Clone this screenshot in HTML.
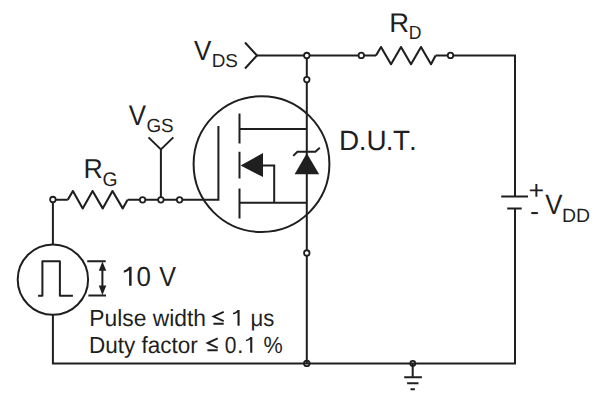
<!DOCTYPE html>
<html><head><meta charset="utf-8"><style>
html,body{margin:0;padding:0;background:#fff;width:613px;height:402px;overflow:hidden}
svg{display:block}
text{font-family:"Liberation Sans",sans-serif;fill:#1f1f1f;text-rendering:geometricPrecision}
</style></head><body>
<svg width="613" height="402" viewBox="0 0 613 402">
<g fill="none" stroke="#1f1f1f" stroke-width="2" stroke-linejoin="miter" stroke-linecap="butt">
<!-- top wire -->
<path d="M257 55.5 H376 M435.6 55.5 H515 V196.4"/>
<path d="M245 42.5 L257 55.5 L245 68.5"/>
<!-- drain vertical -->
<path d="M306.8 55.5 V363.4"/>
<!-- mosfet -->
<circle cx="261.5" cy="164.1" r="67.9"/>
<path d="M239.5 113.5 V143.5 M239.5 151.8 V178.6 M239.5 188.5 V218.5"/>
<path d="M239.5 129 H306.8 M239.5 202.8 H306.8 M263 165.5 H274.2 V202.8"/>
<path d="M218.4 126 V199.8 H127.6 M67.8 199.8 H52.9 V244.4"/>
<path d="M160.9 199.8 V149.4 M148.5 137.4 L160.9 149.4 L173.3 137.4"/>
<!-- pulse gen -->
<circle cx="52.9" cy="279.6" r="35.2"/>
<path d="M38.1 295.8 H42.4 V261.2 H59.9 V295.8 H72.9" stroke-linejoin="round"/>
<path d="M52.9 314.8 V363.4 H515 V208.6"/>
<!-- battery -->
<path d="M501.2 196.4 H528 M507.2 208.6 H521.7"/>
<!-- 10V arrows -->
<path d="M87.2 261.2 H105.7 M88.4 295.5 H106 M102.4 268 V288"/>
<!-- ground -->
<path d="M412.7 363.4 V377.2 M404.2 377.2 H421.9 M407.1 383.3 H418.5 M410.5 389.2 H414.9"/>
<!-- zener bar -->
<path d="M293.2 155.9 L297.4 151.7 H315.3 L319.8 147.7"/>
</g>
<!-- resistors -->
<path d="M376 55.5 L381 47 L391 64.2 L401 47 L411 64.2 L421 47 L431 64.2 L435.6 55.5 M127.6 199.8 L122.7 208.4 L112.5 191 L102.7 208.4 L92.6 191 L82.7 208.4 L72.9 191 L67.8 199.8" fill="none" stroke="#1f1f1f" stroke-width="2.1" stroke-linejoin="round"/>
<g fill="#1f1f1f" stroke="none">
<path d="M102.4 261.5 L106.3 270.7 L98.8 270.7 Z M102.4 295.3 L106.3 285.5 L98.8 285.5 Z"/>
<path d="M306.8 153.2 L319.2 174.2 L294.6 174.2 Z"/>
<path d="M240.6 165.5 L263 153 L263 177 Z"/>
</g>
<g fill="#fff" stroke="#1f1f1f" stroke-width="1.8">
<circle cx="306.8" cy="55.5" r="2.75"/>
<circle cx="306.8" cy="79.6" r="2.75"/>
<circle cx="361.3" cy="55.4" r="2.75"/>
<circle cx="450.5" cy="55.4" r="2.75"/>
<circle cx="142.6" cy="199.8" r="2.75"/>
<circle cx="160.9" cy="199.8" r="2.75"/>
<circle cx="179.6" cy="199.8" r="2.75"/>
<circle cx="52.9" cy="199.5" r="2.75"/>
<circle cx="306.8" cy="253" r="2.75"/>
</g>
<g fill="none" stroke="#1f1f1f" stroke-width="1.8">
<circle cx="306.8" cy="363.4" r="2.8"/>
<circle cx="412.8" cy="363.4" r="2.5"/>
</g>
<text transform="translate(193.92,59.6) scale(0.937,1)" font-size="27.75">V</text>
<text transform="translate(211.73,67.4) scale(1.007,1)" font-size="18.76">DS</text>
<text transform="translate(389.17,32) scale(1.021,1)" font-size="26.82">R</text>
<text transform="translate(408.65,38.7) scale(0.926,1)" font-size="19">D</text>
<text transform="translate(128.85,125.4) scale(0.909,1)" font-size="28.52">V</text>
<text transform="translate(146.45,131.6) scale(0.988,1)" font-size="19.09">GS</text>
<text transform="translate(83.47,177.9) scale(0.975,1)" font-size="27.42">R</text>
<text transform="translate(102.42,185.6) scale(0.987,1)" font-size="19.56">G</text>
<text y="150.1" font-size="27.9"><tspan x="339.1">D</tspan><tspan x="358.8">.</tspan><tspan x="366.5">U</tspan><tspan x="385.7">.</tspan><tspan x="392.9">T</tspan><tspan x="409.1">.</tspan></text>
<path d="M129.1 266.8 H131.6 V285.7 H129.1 V270.2 C127.6 271.4 125.8 272.3 123.8 272.7 V270.6 C126.2 270 128 268.6 129.1 266.8 Z" fill="#1f1f1f"/>
<text transform="translate(136.38,285.7) scale(0.939,1)" font-size="27.56">0</text>
<text transform="translate(159.33,285.7) scale(0.912,1)" font-size="27.56">V</text>
<text transform="translate(89.21,325.9) scale(0.977,1)" font-size="23.4">Pulse width</text>
<path d="M223.7 311.8 L213.6 316.5 L223.7 321.2 M213.4 323.7 H223.7" fill="none" stroke="#1f1f1f" stroke-width="1.9"/>
<path d="M237.5 309.9 H239.6 V325.7 H237.5 V312.6 C236.3 313.5 234.8 314.1 233 314.4 V312.8 C235 312.4 236.5 311.4 237.5 309.9 Z" fill="#1f1f1f"/>
<text transform="translate(250.55,325.9) scale(0.947,1)" font-size="23.4">μs</text>
<text transform="translate(88.96,352.5) scale(0.963,1)" font-size="23.4">Duty factor</text>
<path d="M217.7 338.4 L207.6 343.1 L217.7 347.8 M207.4 350.3 H217.7" fill="none" stroke="#1f1f1f" stroke-width="1.9"/>
<text transform="translate(224.8,352.5) scale(0.897,1)" font-size="23.4">0</text>
<text x="236.92" y="352.5" font-size="23.4">.</text>
<path d="M250.2 336.9 H252.3 V352.7 H250.2 V339.6 C249.1 340.4 247.6 340.9 245.9 341.3 V339.7 C247.8 339.3 249.3 338.4 250.2 336.9 Z" fill="#1f1f1f"/>
<text transform="translate(263.6,352.5) scale(0.924,1)" font-size="23.4">%</text>
<text transform="translate(528.61,199.2) scale(1.033,1)" font-size="25.89">+</text>
<text transform="translate(529.97,219.6) scale(1.042,1)" font-size="26">-</text>
<text transform="translate(545.34,213.8) scale(0.918,1)" font-size="28.13">V</text>
<text transform="translate(561.91,221.7) scale(1.004,1)" font-size="19.38">DD</text>
</svg>
</body></html>
